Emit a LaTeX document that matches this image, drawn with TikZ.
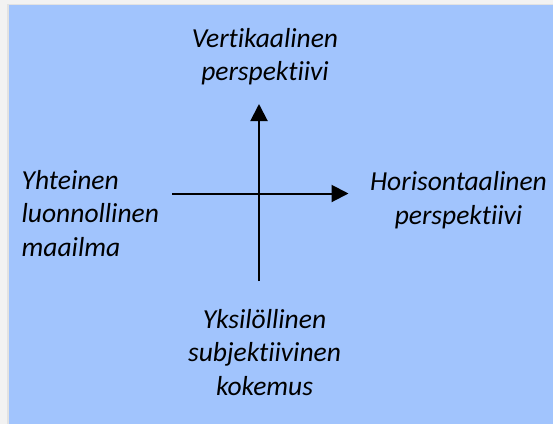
\documentclass[tikz,border=0pt]{standalone}
\usepackage{fontspec}
\setmainfont{Carlito}[Ligatures=NoCommon]
\usetikzlibrary{arrows.meta}
\definecolor{panelblue}{HTML}{A1C4FD}
\definecolor{margingrey}{HTML}{F2F2F2}
\definecolor{edgegrey}{HTML}{E2E2E2}
\tikzset{
  lbl/.style={align=center, inner sep=0pt, font=\fontsize{27.5}{33.3}\selectfont\itshape, text=black},
  axis/.style={line width=2pt, -{Triangle[length=17pt,width=17pt]}},
}
\begin{document}
\begin{tikzpicture}[x=1pt,y=-1pt]
\useasboundingbox (0,0) rectangle (553,424);
\fill[margingrey] (0,0) rectangle (553,424);
\fill[edgegrey] (7,4) rectangle (553,424);
\fill[panelblue] (8.5,5) rectangle (553,424);
\coordinate (vtop) at (259,104);
\coordinate (vbot) at (259,281);
\coordinate (hleft) at (172,193.5);
\coordinate (hright) at (348.5,193.5);
\draw[axis] (vbot) -- (vtop);
\draw[axis] (hleft) -- (hright);
\node[lbl, anchor=base] (top) at (265,80.5) {Vertikaalinen\\perspektiivi};
\node[lbl, anchor=base west, align=left] (left) at (21.5,256) {Yhteinen\\luonnollinen\\maailma};
\node[lbl, anchor=base] (right) at (458.5,224) {Horisontaalinen\\perspektiivi};
\node[lbl, anchor=base] (bottom) at (264.5,395) {Yksilöllinen\\subjektiivinen\\kokemus};
\end{tikzpicture}
\end{document}
